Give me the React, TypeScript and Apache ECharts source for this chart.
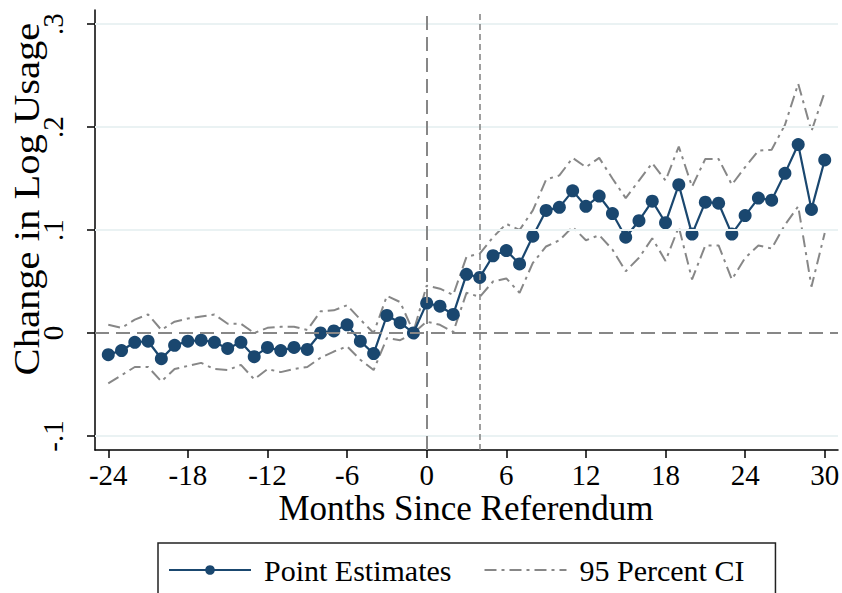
import React, { useEffect, useRef } from "react";
import * as echarts from "echarts";

const months = [
  -24, -23, -22, -21, -20, -19, -18, -17, -16, -15, -14, -13, -12, -11, -10, -9, -8, -7, -6, -5, -4, -3, -2, -1,
  0, 1, 2, 3, 4, 5, 6, 7, 8, 9, 10, 11, 12, 13, 14, 15, 16, 17, 18, 19, 20, 21, 22, 23, 24, 25, 26, 27, 28, 29, 30,
];

const pointEstimates = [
  -0.021, -0.017, -0.009, -0.008, -0.025, -0.012, -0.008, -0.007, -0.009, -0.015, -0.009, -0.023, -0.014, -0.017,
  -0.014, -0.016, 0.0, 0.002, 0.008, -0.008, -0.02, 0.017, 0.01, 0.0,
  0.029, 0.026, 0.018, 0.057, 0.054, 0.075, 0.08, 0.067, 0.094, 0.119, 0.122, 0.138, 0.123, 0.133, 0.116, 0.093,
  0.109, 0.128, 0.107, 0.144, 0.096, 0.127, 0.126, 0.096, 0.114, 0.131, 0.129, 0.155, 0.183, 0.12, 0.168,
];

const upperCI = [
  0.008, 0.005, 0.013, 0.018, 0.003, 0.011, 0.014, 0.016, 0.018, 0.009, 0.009, 0.0, 0.005, 0.006, 0.006, 0.003,
  0.021, 0.022, 0.027, 0.013, 0.0, 0.036, 0.03, 0.001,
  0.046, 0.043, 0.037, 0.074, 0.077, 0.093, 0.106, 0.1, 0.119, 0.149, 0.153, 0.17, 0.161, 0.17, 0.15, 0.131, 0.148,
  0.165, 0.148, 0.181, 0.142, 0.169, 0.169, 0.144, 0.161, 0.177, 0.178, 0.202, 0.242, 0.196, 0.234,
];

const lowerCI = [
  -0.049, -0.041, -0.033, -0.033, -0.047, -0.035, -0.032, -0.029, -0.035, -0.036, -0.031, -0.045, -0.035, -0.038,
  -0.035, -0.033, -0.024, -0.018, -0.013, -0.026, -0.036, -0.005, -0.007, 0.0,
  0.011, 0.008, 0.001, 0.039, 0.035, 0.05, 0.053, 0.039, 0.068, 0.084, 0.09, 0.103, 0.09, 0.095, 0.081, 0.06, 0.073,
  0.092, 0.07, 0.103, 0.052, 0.085, 0.085, 0.052, 0.073, 0.085, 0.082, 0.105, 0.123, 0.045, 0.097,
];

const xTicks = [-24, -18, -12, -6, 0, 6, 12, 18, 24, 30];
const yTicks = [-0.1, 0, 0.1, 0.2, 0.3];
const gridValues = [-0.1, 0.1, 0.2, 0.3];
const eventMonth = 0;
const treatmentMonth = 4;

const xTitle = "Months Since Referendum";
const yTitle = "Change in Log Usage";
const estName = "Point Estimates";
const ciName = "95 Percent CI";

const SERIF = "'Liberation Serif', 'Times New Roman', serif";
const NAVY = "#1a476f";
const GRAY = "#878787";

function fmtY(v: number): string {
  if (Math.abs(v) < 1e-9) return "0";
  return v.toFixed(1).replace("0.", ".");
}

export default function App() {
  const ref = useRef<HTMLDivElement>(null);

  useEffect(() => {
    if (!ref.current) return;
    const chart = echarts.init(ref.current, null, { renderer: "svg" });

    const pair = (vals: number[]) => months.map((m, i) => [m, vals[i]]);

    const option: any = {
      animation: false,
      backgroundColor: "#ffffff",
      grid: { left: 95, right: 4, top: 10, bottom: 143, containLabel: false, outerBoundsMode: "none" },
      xAxis: {
        type: "value",
        min: -25,
        max: 31,
        axisLine: { show: true, onZero: false, lineStyle: { color: "#000", width: 1.5 } },
        axisTick: { show: true, length: 8, lineStyle: { color: "#000", width: 1.5 }, customValues: xTicks },
        axisLabel: {
          customValues: xTicks,
          fontFamily: SERIF,
          fontSize: 29,
          color: "#000",
          margin: 10,
          formatter: (v: number) => String(v),
        },
        splitLine: { show: false },
      },
      yAxis: {
        type: "value",
        min: -0.1136,
        max: 0.3136,
        axisLine: { show: true, onZero: false, lineStyle: { color: "#000", width: 1.5 } },
        axisTick: { show: true, length: 8, lineStyle: { color: "#000", width: 1.5 }, customValues: yTicks },
        axisLabel: {
          customValues: yTicks,
          rotate: 90,
          fontFamily: SERIF,
          fontSize: 29,
          color: "#000",
          margin: 28,
          formatter: (v: number) => fmtY(v),
        },
        splitLine: { show: false },
      },
      legend: {
        data: [
          { name: estName },
          { name: ciName, itemStyle: { color: "rgba(0,0,0,0)", borderWidth: 0, opacity: 0 } },
        ],
        left: 158,
        top: 543,
        orient: "horizontal",
        padding: [12, 31, 30, 10],
        itemGap: 32,
        itemWidth: 82,
        itemHeight: 12,
        borderColor: "#222",
        borderWidth: 1.5,
        borderRadius: 0,
        selectedMode: false,
        textStyle: { fontFamily: SERIF, fontSize: 30, color: "#000", padding: [0, 0, 0, 8] },
      },
      graphic: [
        {
          type: "text",
          x: 27,
          y: 199,
          rotation: Math.PI / 2,
          scaleX: 1.16,
          style: {
            text: yTitle,
            font: `35px ${SERIF}`,
            fill: "#000",
            textAlign: "center",
            textVerticalAlign: "middle",
          },
        },
        {
          type: "text",
          x: 466,
          y: 508,
          style: {
            text: xTitle,
            font: `35px ${SERIF}`,
            fill: "#000",
            textAlign: "center",
            textVerticalAlign: "middle",
          },
        },
      ],
      series: [
        {
          name: "_grid",
          type: "line",
          data: [],
          silent: true,
          z: 0,
          markLine: {
            silent: true,
            symbol: ["none", "none"],
            label: { show: false },
            lineStyle: { color: "#eaf2f3", width: 2, type: "solid" },
            data: gridValues.map((v) => ({ yAxis: v })),
          },
        },
        {
          name: "_ref",
          type: "line",
          data: [],
          silent: true,
          z: 1,
          markLine: {
            silent: true,
            symbol: ["none", "none"],
            label: { show: false },
            lineStyle: { color: GRAY, width: 2, type: [14, 7] },
            data: [
              { yAxis: 0, lineStyle: { color: GRAY, width: 2, type: [14, 7] } },
              { xAxis: eventMonth, lineStyle: { color: GRAY, width: 2, type: [14, 7] } },
              { xAxis: treatmentMonth, lineStyle: { color: GRAY, width: 1.6, type: [6, 4] } },
            ],
          },
        },
        {
          name: ciName,
          type: "line",
          data: pair(upperCI),
          symbol: "none",
          z: 2,
          color: GRAY,
          lineStyle: { color: GRAY, width: 2, type: [12, 5, 3, 5] },
        },
        {
          name: ciName,
          type: "line",
          data: pair(lowerCI),
          symbol: "none",
          z: 2,
          color: GRAY,
          lineStyle: { color: GRAY, width: 2, type: [12, 5, 3, 5] },
        },
        {
          name: estName,
          type: "line",
          data: pair(pointEstimates),
          symbol: "circle",
          symbolSize: 13,
          z: 3,
          color: NAVY,
          itemStyle: { color: NAVY },
          lineStyle: { color: NAVY, width: 2.2 },
        },
      ],
    };

    chart.setOption(option);
    return () => chart.dispose();
  }, []);

  return (
    <div
      ref={ref}
      style={{ position: "absolute", left: 0, top: 0, width: 842, height: 593, background: "#fff" }}
    />
  );
}
